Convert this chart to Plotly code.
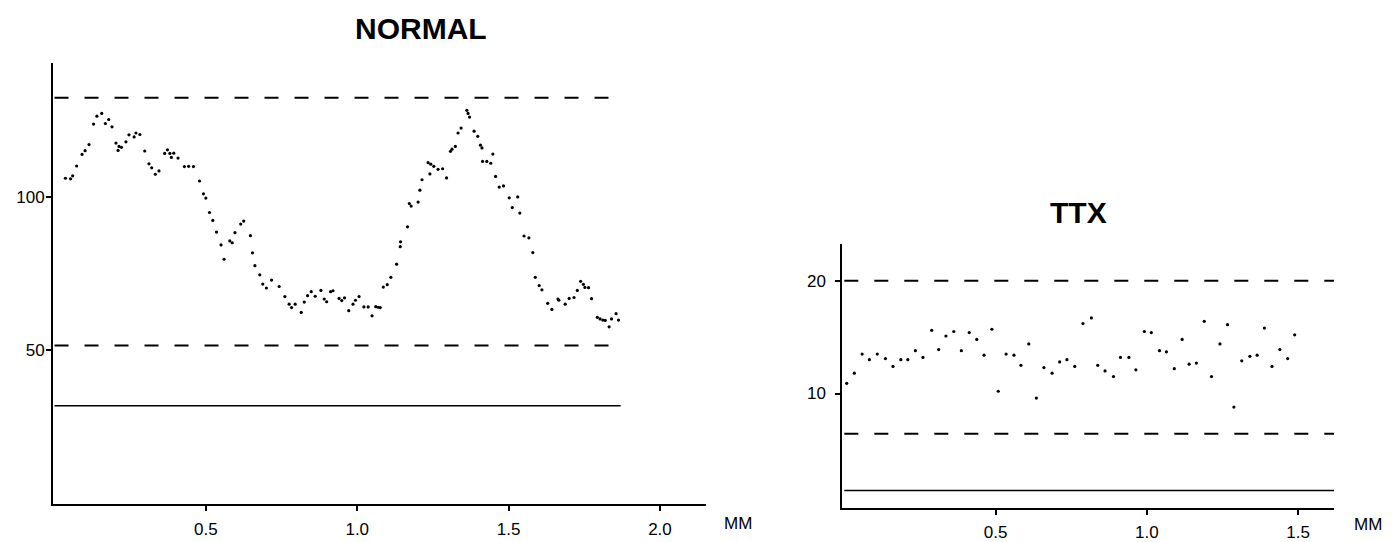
import plotly.graph_objects as go

W, H = 1398, 542

# ---------------- data ----------------
normal_x = [0.036, 0.053, 0.060, 0.073, 0.091, 0.101, 0.114, 0.129, 0.140, 0.156,
            0.168, 0.179, 0.190, 0.203, 0.210, 0.213, 0.221, 0.236, 0.246, 0.263,
            0.269, 0.282, 0.298, 0.312, 0.321, 0.333, 0.345, 0.364, 0.373, 0.381,
            0.386, 0.394, 0.408, 0.429, 0.443, 0.459, 0.479, 0.492, 0.500, 0.512,
            0.523, 0.535, 0.550, 0.560, 0.579, 0.587, 0.596, 0.615, 0.625, 0.647,
            0.654, 0.662, 0.678, 0.688, 0.700, 0.717, 0.742, 0.761, 0.775, 0.783,
            0.795, 0.815, 0.825, 0.836, 0.848, 0.861, 0.880, 0.891, 0.899, 0.912,
            0.920, 0.940, 0.949, 0.958, 0.972, 0.986, 0.994, 1.006, 1.022, 1.036,
            1.049, 1.061, 1.069, 1.076, 1.086, 1.099, 1.111, 1.130, 1.142, 1.143,
            1.166, 1.172, 1.178, 1.201, 1.207, 1.214, 1.234, 1.240, 1.243, 1.253,
            1.267, 1.282, 1.295, 1.308, 1.313, 1.324, 1.333, 1.343, 1.362, 1.366,
            1.371, 1.386, 1.398, 1.407, 1.412, 1.414, 1.428, 1.441, 1.448, 1.457,
            1.469, 1.483, 1.502, 1.512, 1.530, 1.537, 1.551, 1.567, 1.580, 1.588,
            1.601, 1.610, 1.629, 1.643, 1.663, 1.666, 1.687, 1.700, 1.716, 1.727,
            1.738, 1.747, 1.752, 1.764, 1.774, 1.793, 1.802, 1.811, 1.819, 1.832,
            1.840, 1.855, 1.863]
normal_y = [106.1, 105.9, 106.9, 110.1, 113.9, 115.1, 117.1, 123.8, 126.4, 127.3,
            124.0, 125.3, 122.9, 117.6, 115.2, 116.5, 116.2, 118.0, 120.3, 119.6,
            120.9, 120.4, 115.0, 110.8, 109.5, 107.4, 108.5, 114.2, 115.4, 114.2,
            112.9, 114.3, 112.7, 109.9, 110.0, 109.9, 105.2, 101.0, 99.6, 94.9,
            92.3, 88.5, 84.3, 79.6, 85.6, 85.0, 88.3, 91.1, 92.1, 87.3,
            81.7, 77.5, 74.5, 71.5, 70.2, 72.8, 70.7, 67.4, 64.9, 63.8,
            64.9, 62.2, 65.6, 67.7, 69.0, 67.5, 69.4, 66.6, 65.7, 69.0,
            69.3, 66.8, 66.1, 67.0, 62.8, 64.9, 66.2, 67.4, 64.0, 64.0,
            61.1, 64.1, 63.9, 63.8, 70.5, 71.3, 73.7, 78.0, 83.7, 85.3,
            90.2, 97.8, 97.0, 98.3, 102.2, 105.6, 111.2, 107.5, 110.7, 110.0,
            109.0, 109.2, 106.2, 114.9, 115.6, 116.5, 120.9, 122.5, 128.3, 127.3,
            126.1, 121.5, 119.8, 116.9, 116.0, 111.6, 111.6, 111.0, 114.0, 106.7,
            103.2, 103.6, 99.7, 96.5, 100.0, 94.7, 87.2, 86.6, 81.8, 73.7,
            71.0, 69.6, 65.2, 63.2, 66.6, 66.2, 64.9, 66.8, 67.1, 69.4,
            72.4, 71.4, 70.4, 70.3, 66.7, 60.6, 60.1, 59.7, 59.6, 57.5,
            60.1, 61.8, 59.7]

ttx_x = [0.008, 0.033, 0.059, 0.083, 0.109, 0.136, 0.161, 0.187, 0.210, 0.235,
         0.260, 0.289, 0.312, 0.336, 0.362, 0.387, 0.413, 0.438, 0.462, 0.488,
         0.509, 0.535, 0.561, 0.584, 0.610, 0.635, 0.660, 0.687, 0.712, 0.736,
         0.762, 0.789, 0.817, 0.838, 0.862, 0.890, 0.913, 0.941, 0.964, 0.992,
         1.015, 1.042, 1.065, 1.091, 1.117, 1.140, 1.164, 1.190, 1.214, 1.242,
         1.267, 1.288, 1.314, 1.341, 1.365, 1.389, 1.414, 1.440, 1.466, 1.489]
ttx_y = [10.9, 11.8, 13.5, 13.0, 13.5, 13.1, 12.4, 13.0, 13.0, 13.8,
         13.2, 15.6, 13.9, 15.1, 15.5, 13.8, 15.4, 14.8, 13.4, 15.7,
         10.2, 13.5, 13.4, 12.5, 14.4, 9.6, 12.3, 11.8, 12.8, 13.0,
         12.4, 16.2, 16.7, 12.5, 12.0, 11.5, 13.2, 13.2, 12.1, 15.5,
         15.4, 13.8, 13.7, 12.2, 14.8, 12.6, 12.7, 16.4, 11.5, 14.4,
         16.1, 8.8, 12.9, 13.3, 13.4, 15.8, 12.4, 13.9, 13.1, 15.2]

normal_levels = {"upper": 132.4, "lower": 51.4, "base": 31.7}
normal_dash_end = 1.83
normal_solid_end = 1.87
ttx_levels = {"upper": 20.0, "lower": 6.44, "base": 1.4}
ttx_line_end = 1.619

normal_ticks = [0.5, 1.0, 1.5, 2.0]
ttx_ticks = [0.5, 1.0, 1.5]
normal_yticks = [50, 100]
ttx_yticks = [10, 20]

# ---------------- figure ----------------
FONT = "Liberation Sans, Arial, Helvetica, sans-serif"
fig = go.Figure()

dash = "14px,16px"
for key in ["upper", "lower"]:
    v = normal_levels[key]
    fig.add_trace(go.Scatter(x=[0, normal_dash_end], y=[v, v], mode="lines", xaxis="x", yaxis="y",
                             line=dict(color="black", width=2, dash=dash), hoverinfo="skip"))
fig.add_trace(go.Scatter(x=[0, normal_solid_end], y=[normal_levels["base"]] * 2, mode="lines",
                         line=dict(color="black", width=1.6), xaxis="x", yaxis="y"))
fig.add_trace(go.Scatter(x=normal_x, y=normal_y, mode="markers", xaxis="x", yaxis="y",
                         marker=dict(color="black", size=3.2, line=dict(width=0))))

for key in ["upper", "lower"]:
    v = ttx_levels[key]
    fig.add_trace(go.Scatter(x=[0, ttx_line_end], y=[v, v], mode="lines", xaxis="x2", yaxis="y2",
                             line=dict(color="black", width=2, dash=dash)))
fig.add_trace(go.Scatter(x=[0, ttx_line_end], y=[ttx_levels["base"]] * 2, mode="lines",
                         line=dict(color="black", width=1.6), xaxis="x2", yaxis="y2"))
fig.add_trace(go.Scatter(x=ttx_x, y=ttx_y, mode="markers", xaxis="x2", yaxis="y2",
                         marker=dict(color="black", size=3.2, line=dict(width=0))))

common = dict(showline=True, linewidth=2, linecolor="black", showgrid=False, zeroline=False,
              ticks="outside", ticklen=5, tickwidth=1.5, tickcolor="black",
              tickfont=dict(family=FONT, size=17, color="black"))

fig.update_layout(
    width=W, height=H, margin=dict(l=0, r=0, t=0, b=0),
    paper_bgcolor="white", plot_bgcolor="white", showlegend=False,
    xaxis=dict(domain=[53 / W, 706 / W], range=[-0.005, 2.152], anchor="y",
               tickvals=normal_ticks, ticktext=[f"{t:.1f}" for t in normal_ticks],
               ticklabelstandoff=3, **common),
    yaxis=dict(domain=[1 - 507.3 / H, 1 - 63 / H], range=[-0.6, 143.9], anchor="x",
               tickvals=normal_yticks, ticktext=[str(t) for t in normal_yticks],
               ticklabelstandoff=-2, **common),
    xaxis2=dict(domain=[842.3 / W, 1334 / W], range=[-0.0066, 1.619], anchor="y2",
                tickvals=ttx_ticks, ticktext=[f"{t:.1f}" for t in ttx_ticks],
                ticklabelstandoff=3, **common),
    yaxis2=dict(domain=[1 - 510.7 / H, 1 - 245 / H], range=[-0.14, 23.29], anchor="x2",
                tickvals=ttx_yticks, ticktext=[str(t) for t in ttx_yticks],
                ticklabelstandoff=6, **common),
)

def ann(text, px, py, size, bold=False):
    fig.add_annotation(text=f"<b>{text}</b>" if bold else text, xref="paper", yref="paper",
                       x=px / W, y=1 - py / H, showarrow=False, xanchor="center", yanchor="middle",
                       font=dict(family=FONT, size=size, color="black"))

ann("NORMAL", 421, 29, 30, bold=True)
ann("TTX", 1078, 214, 30, bold=True)
ann("MM", 738, 526, 17)
ann("MM", 1368, 527, 17)

fig.write_html("out.html", config={"displayModeBar": False},
               post_script="document.body.style.margin='0';document.body.style.overflow='hidden';")
